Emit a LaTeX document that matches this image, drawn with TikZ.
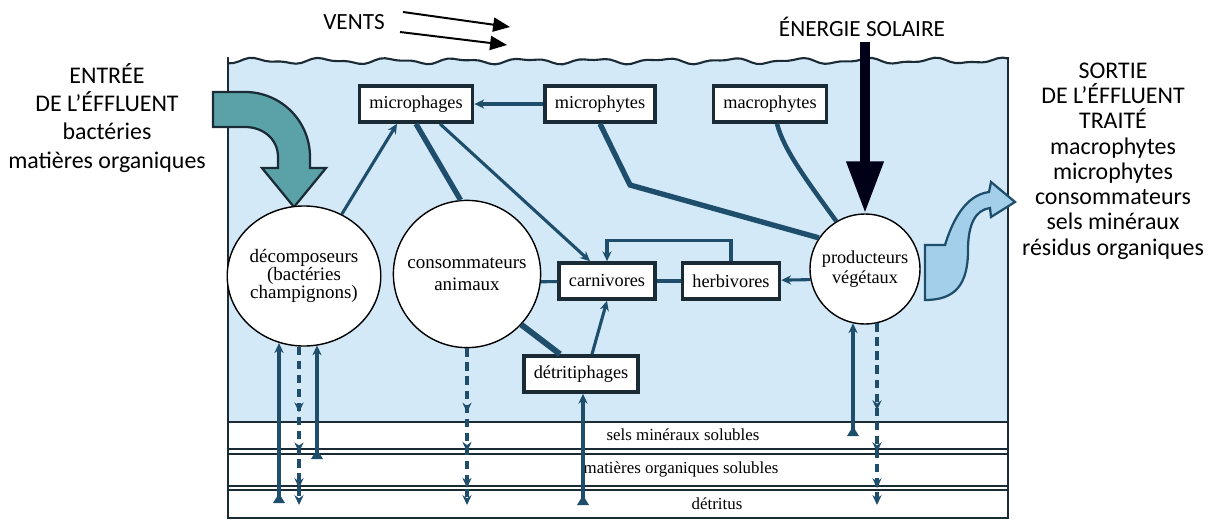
\documentclass[tikz,border=0pt]{standalone}
\usepackage{fontspec}
\setmainfont{Liberation Serif}
\newfontfamily\labelfont{Carlito}
\usepackage{tikz}
\usetikzlibrary{shapes,shapes.geometric,arrows,arrows.meta,calc,positioning,decorations.markings}

\definecolor{water}{HTML}{D3E9F8}
\definecolor{flowline}{HTML}{1E4E6C}
\definecolor{rimline}{HTML}{1B2B36}
\definecolor{inflow}{HTML}{5AA2A8}
\definecolor{outflow}{HTML}{A3CFEA}

\tikzset{
  box/.style={draw=rimline, line width=2.6pt, fill=white, inner xsep=7pt,
    minimum height=0.9cm, font=\fontsize{13}{14}\selectfont},
  pool/.style={circle, draw=black, line width=1pt, fill=white, align=center,
    inner sep=0pt, font=\fontsize{13.5}{15.5}\selectfont},
  link/.style={draw=flowline, line width=2.2pt},
  heavy/.style={draw=flowline, line width=3.8pt},
  lift/.style={draw=flowline, line width=2.3pt,
    arrows={Triangle[reversed,length=7pt,width=8pt]->}},
  drain/.style n args={3}{draw=flowline, line width=2.6pt, ->,
    dash pattern=on 6pt off 4pt, postaction={decorate},
    decoration={markings,
      mark=at position #1 with {\arrow{>}},
      mark=at position #2 with {\arrow{>}},
      mark=at position #3 with {\arrow{>}}}},
  gust/.style={draw=black, line width=1.4pt,
    arrows=-{Triangle[length=12pt,width=10pt]}},
  sunray/.style={draw=black!90!blue, line width=7pt,
    arrows=-{Triangle[length=37pt,width=25pt]}},
  band/.style={draw=rimline, line width=1.4pt},
  outtext/.style={font=\labelfont\fontsize{17}{20}\selectfont, align=center},
}

\begin{document}
\begin{tikzpicture}[%
    x=0.025cm,
    y=-0.025cm,
    >={Stealth[length=7pt,width=6.5pt]}
  ]
  \useasboundingbox (0,0) rectangle (1216,520);

  % basin
  \fill[water] (228,422) -- (228,61)
    -- plot[domain=228:1008, samples=150] (\x, {61+2.2*sin(5.3*\x)+1.2*sin(11*\x+40)})
    -- (1008,422) -- cycle;
  \fill[white] (228,422) rectangle (1008,518);
  \draw[band, line width=1.5pt] plot[domain=228:1008, samples=150]
    (\x, {61+2.2*sin(5.3*\x)+1.2*sin(11*\x+40)});
  \draw[band, line width=1.9pt] (228,57) -- (228,518) -- (1008,518) -- (1008,57);
  \foreach \y in {422,449,454,486,490}
    \draw[band] (228,\y) -- (1008,\y);

  \node[font=\fontsize{12}{12}\selectfont] (sels) at (683,435) {sels minéraux solubles};
  \node[font=\fontsize{12}{12}\selectfont] (solubles) at (681,469) {matières organiques solubles};
  \node[font=\fontsize{12}{12}\selectfont] (detritus) at (717,504) {détritus};

  % texts outside
  \node[outtext] (entree) at (107,118)
    {ENTRÉE\\DE L’ÉFFLUENT\\bactéries\\matières organiques};
  \node[outtext, font=\labelfont\fontsize{17}{18}\selectfont] (sortie) at (1113,161)
    {SORTIE\\DE L’ÉFFLUENT\\TRAITÉ\\macrophytes\\microphytes\\consommateurs\\sels minéraux\\résidus organiques};
  \node[font=\labelfont\fontsize{16.5}{18}\selectfont] (vents) at (354,22) {VENTS};
  \node[font=\labelfont\fontsize{16.5}{18}\selectfont] (soleil) at (862,27) {ÉNERGIE SOLAIRE};

  % in and out
  \filldraw[fill=inflow, draw=rimline, line width=1.6pt]
    (213,92) -- (245,92) .. controls (281,92) and (310,121) .. (310,157)
    -- (310,168) -- (326,168) -- (294,207) -- (262,168) -- (278,168) -- (278,157)
    .. controls (278,139) and (263,127) .. (245,127) -- (213,127) -- cycle;
  \filldraw[fill=outflow, draw=flowline, line width=1.6pt]
    (925,300) -- (925,245) -- (945,245) .. controls (952,222) and (965,195) .. (989,192)
    -- (991,182) -- (1015,202) -- (991,217) -- (990,208)
    .. controls (975,210) and (968,225) .. (968,250)
    .. controls (968,285) and (955,300) .. (925,300) -- cycle;

  % compartments
  \node[box] (microphages) at (416,104) {microphages};
  \node[box] (microphytes) at (600,104) {microphytes};
  \node[box] (macrophytes) at (770,104) {macrophytes};
  \node[box] (carnivores) at (607,281) {carnivores};
  \node[box] (herbivores) at (731,281) {herbivores};
  \node[box] (detritiphages) at (581,374) {détritiphages};

  \node[pool, ellipse, minimum width=3.05cm, minimum height=3.5cm,
    font=\fontsize{13.5}{13}\selectfont] (decomposeurs) at (304,276)
    {décomposeurs\\(bactéries\\champignons)};
  \node[pool, minimum size=3.68cm] (consommateurs) at (467,274) {consommateurs\\animaux};
  \node[pool, minimum size=2.75cm, font=\fontsize{13}{14}\selectfont]
    (producteurs) at (865,269) {producteurs\\végétaux};

  \coordinate (w1) at (403,12);
  \coordinate (w1e) at (510,27);
  \coordinate (w2) at (400,32);
  \coordinate (w2e) at (507,45);
  \coordinate (sun) at (865,42);
  \draw[gust] (w1) -- (w1e);
  \draw[gust] (w2) -- (w2e);
  \draw[sunray] (sun) -- (producteurs.north);

  % food web
  \draw[link, ->] (microphytes) -- (microphages);
  \draw[link, ->] (decomposeurs) -- ($(microphages.south)+(-19,0)$);
  \draw[heavy] (microphages.south) -- (consommateurs.95);
  \draw[link, ->] ($(microphages.south)+(24,0)$) -- ($(carnivores.north)+(-17,0)$);
  \draw[heavy] (microphytes.south) -- (630,185) -- (producteurs.146);
  \draw[heavy, line width=3.2pt] ($(macrophytes.south)+(7,0)$)
    .. controls (784,150) and (805,178) .. (producteurs.121);
  \draw[link, ->] (producteurs.191) -- (herbivores);
  \draw[link] (herbivores) -- (carnivores);
  \draw[link, ->] (herbivores.north) -- ++(0,-21) -| (carnivores.north);
  \draw[link] (consommateurs.-6) -- (carnivores);
  \draw[heavy, line width=4.2pt] (consommateurs.-43) -- ($(detritiphages.north)+(-21,0)$);
  \draw[link, ->] ($(detritiphages.north)+(11,0)$) -- (carnivores.south);

  % exchanges with the bottom
  \coordinate (d1) at (279,503);
  \coordinate (d2) at (299,505);
  \coordinate (d3) at (317,459);
  \coordinate (c1) at (467,505);
  \coordinate (t1) at (583,505);
  \coordinate (p1) at (853,436);
  \coordinate (p2) at (877,505);

  \draw[lift] (d1) -- (d1 |- decomposeurs.250);
  \draw[lift] (d3) -- (d3 |- decomposeurs.282);
  \draw[drain={0.415}{0.667}{0.893}] (d2 |- decomposeurs.267) -- (d2);
  \draw[drain={0.41}{0.66}{0.89}] (consommateurs.south) -- (c1);
  \draw[lift] (t1) -- (detritiphages.south -| t1);
  \draw[lift] (p1) -- (p1 |- producteurs.257);
  \draw[drain={0.478}{0.709}{0.907}] (p2 |- producteurs.283) -- (p2);

\end{tikzpicture}
\end{document}
